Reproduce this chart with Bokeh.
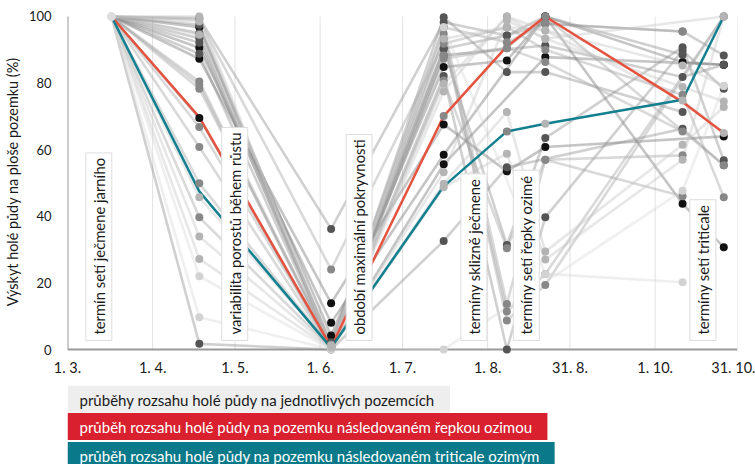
from bokeh.plotting import figure
from bokeh.models import Range1d, FixedTicker, Label, ColumnDataSource
from bokeh.layouts import column
from bokeh.embed import file_html
from bokeh.resources import INLINE

# ---- axes ----
x_tick_days = [0, 31, 61, 92, 122, 153, 183, 214, 244]          # days after 1. 3.
x_tick_labels = ["1. 3.", "1. 4.", "1. 5.", "1. 6.", "1. 7.", "1. 8.", "31. 8.", "1. 10.", "31. 10."]
y_ticks = [0, 20, 40, 60, 80, 100]

# ---- observation dates (days after 1. 3.) ----
obs_days = [16, 48, 96, 137, 160, 174, 224, 239]

N = None
# shade of each field: K black, D dark, G gray, L light, V very light
field_shades = ["K", "K", "K", "K", "D", "D", "D", "D", "D", "D", "D",
                "G", "G", "G", "G", "G", "G", "G", "G",
                "L", "L", "L", "L", "V", "V", "L", "L"]
field_values = [
    [100, 96.8, 4.2, 84.8, 86.8, 100, 86.3, 85.5],
    [100, 90.6, 8.0, 58.5, N, 100, 43.8, 30.7],
    [100, 87.3, 13.9, 67.6, 53.5, 60.8, N, 64.0],
    [100, 69.5, 0.5, 55.6, N, 87.8, N, 85.5],
    [100, 99.5, 36.2, 98.3, 94.3, 97.8, 95.5, 88.3],
    [100, 1.7, 0.0, 32.6, 54.7, N, 66.3, 55.3],
    [100, 92.1, 2.2, 90.3, 31.4, 63.5, 90.8, 56.8],
    [100, 88.8, 1.0, 82.1, 0.0, 39.7, 89.8, 78.3],
    [100, 97.5, 0.5, 99.8, 83.3, 83.3, 71.3, N],
    [100, 95.0, 1.2, 88.3, N, 91.3, 81.8, 85.5],
    [100, 93.5, 0.9, 90.3, 94.3, 100, 88.5, N],
    [100, 99.0, 24.0, 91.8, 96.8, 90.0, 76.5, 45.7],
    [100, 80.5, 0.8, 87.3, 90.5, 86.3, 65.5, N],
    [100, 79.5, 0.3, 80.8, 30.4, 57.0, 58.3, N],
    [100, 78.3, 1.5, 96.8, 13.7, 57.0, 46.0, N],
    [100, 66.8, 0.5, 93.3, 11.4, 22.7, N, 100],
    [100, 60.8, 0.2, 94.8, 8.7, 19.4, N, 100],
    [100, 49.9, 0.6, 96.8, 92.3, 97.8, 95.5, N],
    [100, 39.7, 0.4, 88.3, 90.5, 100, N, 55.3],
    [100, 94.5, 0.5, 77.5, 100, 95.8, 85.3, 79.1],
    [100, 45.7, 0.7, 53.2, 98.8, 93.3, 78.8, 74.5],
    [100, 33.9, 0.3, 49.8, 71.3, 29.4, 61.5, 72.8],
    [100, 27.2, 0.2, 48.7, 58.8, 27.0, 57.0, 100],
    [100, 22.0, 0.0, 0.0, N, N, 47.7, 79.1],
    [100, 9.7, 0.1, 96.8, N, 22.7, 20.2, N],
    [100, 98.5, 1.2, 93.3, 96.8, 95.8, 74.8, 65.0],
    [100, 100, 0.6, 79.8, 100, 93.3, N, 100],
]
red_values = [100, 69.8, 0.8, 70.1, 91.0, 100, 74.3, 65.0]
red_dot_shades = [N, N, N, "G", N, N, N, N]
teal_values = [100, 47.5, 0.5, 49.0, 65.5, 67.8, 75.0, 100]
teal_dot_shades = [N, N, N, N, "G", "L", N, N]

annot_texts = ["termín setí ječmene jarního", "variabilita porostů během růstu",
               "období maximální pokryvnosti", "termíny sklizně ječmene",
               "termíny setí řepky ozimé", "termíny setí triticale"]
annot_days = [11.4, 60.9, 106.2, 148.0, 167.1, 231.4]

legend_texts = ["průběhy rozsahu holé půdy na jednotlivých pozemcích",
                "průběh rozsahu holé půdy na pozemku následovaném řepkou ozimou",
                "průběh rozsahu holé půdy na pozemku následovaném triticale ozimým"]

dot_colors = {"K": "#111111", "D": "#555555", "G": "#888888", "L": "#b4b4b4", "V": "#d2d2d2"}
line_colors = {"K": "#6e6e6e", "D": "#8a8a8a", "G": "#a0a0a0", "L": "#c4c4c4", "V": "#d8d8d8"}
RED = "#e4533f"
TEAL = "#14808f"
FONT = "Lato"
TXT = "#1a1a1a"

p = figure(width=755, height=380, output_backend="svg", toolbar_location=None,
           x_range=Range1d(0, 244), y_range=Range1d(-1.5, 102.1),
           min_border_left=66, min_border_right=18, min_border_top=9, min_border_bottom=26)
p.outline_line_color = None
p.grid.visible = False

# grid lines and axis lines from tick arrays
p.segment(x0=x_tick_days[1:], y0=[y_ticks[0]] * (len(x_tick_days) - 1),
          x1=x_tick_days[1:], y1=[y_ticks[-1]] * (len(x_tick_days) - 1),
          line_color="#e2e2e2", line_width=1)
p.segment(x0=[x_tick_days[0], x_tick_days[0]], y0=[y_ticks[0], y_ticks[0]],
          x1=[x_tick_days[0], x_tick_days[-1]], y1=[y_ticks[-1], y_ticks[0]],
          line_color="#9a9a9a", line_width=2)

def pts(vals):
    xs = [d for d, v in zip(obs_days, vals) if v is not None]
    ys = [v for v in vals if v is not None]
    return xs, ys

xs_all, ys_all, cols = [], [], []
for shade, vals in zip(field_shades, field_values):
    xs, ys = pts(vals)
    xs_all.append(xs); ys_all.append(ys); cols.append(line_colors[shade])
p.multi_line(xs=xs_all, ys=ys_all, line_color=cols, line_alpha=0.4, line_width=2.6)

rx, ry = pts(red_values)
tx, ty = pts(teal_values)
p.line(rx, ry, line_color=RED, line_width=2.5)
p.line(tx, ty, line_color=TEAL, line_width=2.5)

mx, my, mc = [], [], []
for shade, vals in zip(field_shades, field_values):
    xs, ys = pts(vals)
    mx += xs[1:]; my += ys[1:]; mc += [dot_colors[shade]] * (len(xs) - 1)
for vals, shades in ((red_values, red_dot_shades), (teal_values, teal_dot_shades)):
    for d, v, s in zip(obs_days, vals, shades):
        if s is not None:
            mx.append(d); my.append(v); mc.append(dot_colors[s])
src = ColumnDataSource(dict(x=mx, y=my, c=mc))
p.scatter("x", "y", source=src, size=8, fill_color="c", line_color=None)
# common starting point
p.scatter([obs_days[0]], [field_values[0][0]], size=9, fill_color="#dddddd", line_color=None)

# axes
p.xaxis.ticker = FixedTicker(ticks=x_tick_days)
p.xaxis.major_label_overrides = {d: l for d, l in zip(x_tick_days, x_tick_labels)}
p.yaxis.ticker = FixedTicker(ticks=y_ticks)
for ax in (p.xaxis, p.yaxis):
    ax.axis_line_color = None
    ax.major_tick_line_color = None
    ax.minor_tick_line_color = None
    ax.major_label_text_font = FONT
    ax.major_label_text_color = TXT
p.xaxis.major_label_text_font_size = "14.5px"
p.xaxis.major_label_standoff = -2
p.yaxis.major_label_text_font_size = "13px"
p.yaxis.major_label_standoff = 10
p.yaxis.axis_label = "Výskyt holé půdy na ploše pozemku (%)"
p.yaxis.axis_label_text_font = FONT
p.yaxis.axis_label_text_font_size = "14.4px"
p.yaxis.axis_label_text_font_style = "normal"
p.yaxis.axis_label_text_color = TXT
p.yaxis.axis_label_standoff = 5

# vertical annotation boxes
for t, d in zip(annot_texts, annot_days):
    p.add_layout(Label(x=d, y=2.7, text=t, angle=90, angle_units="deg",
                       text_align="left", text_baseline="middle",
                       text_font=FONT, text_font_size="14.8px", text_color=TXT,
                       background_fill_color="white", border_line_color="#dddddd",
                       padding=dict(left=6, right=5, top=4, bottom=4)))

# legend panel (its frame is aligned with the chart frame by the column layout)
leg = figure(width=755, height=84, output_backend="svg", toolbar_location=None,
             x_range=p.x_range, y_range=Range1d(0, 84), min_border=0,
             x_axis_location=None, y_axis_location=None)
leg.grid.visible = False
leg.outline_line_color = None
legend_fill = ["#eeeeee", "#d9202e", "#0a7a8a"]
legend_text_col = [TXT, "white", "white"]
legend_y = [65.3, 38, 9]
for t, f, c, y in zip(legend_texts, legend_fill, legend_text_col, legend_y):
    leg.add_layout(Label(x=x_tick_days[0], y=y, text=t, text_align="left", text_baseline="middle",
                         text_font=FONT, text_font_size="15px", text_color=c,
                         background_fill_color=f, border_line_color=None,
                         padding=dict(left=12, right=15, top=5, bottom=4)))

open("out.html", "w").write(file_html(column(p, leg, spacing=0), INLINE))
